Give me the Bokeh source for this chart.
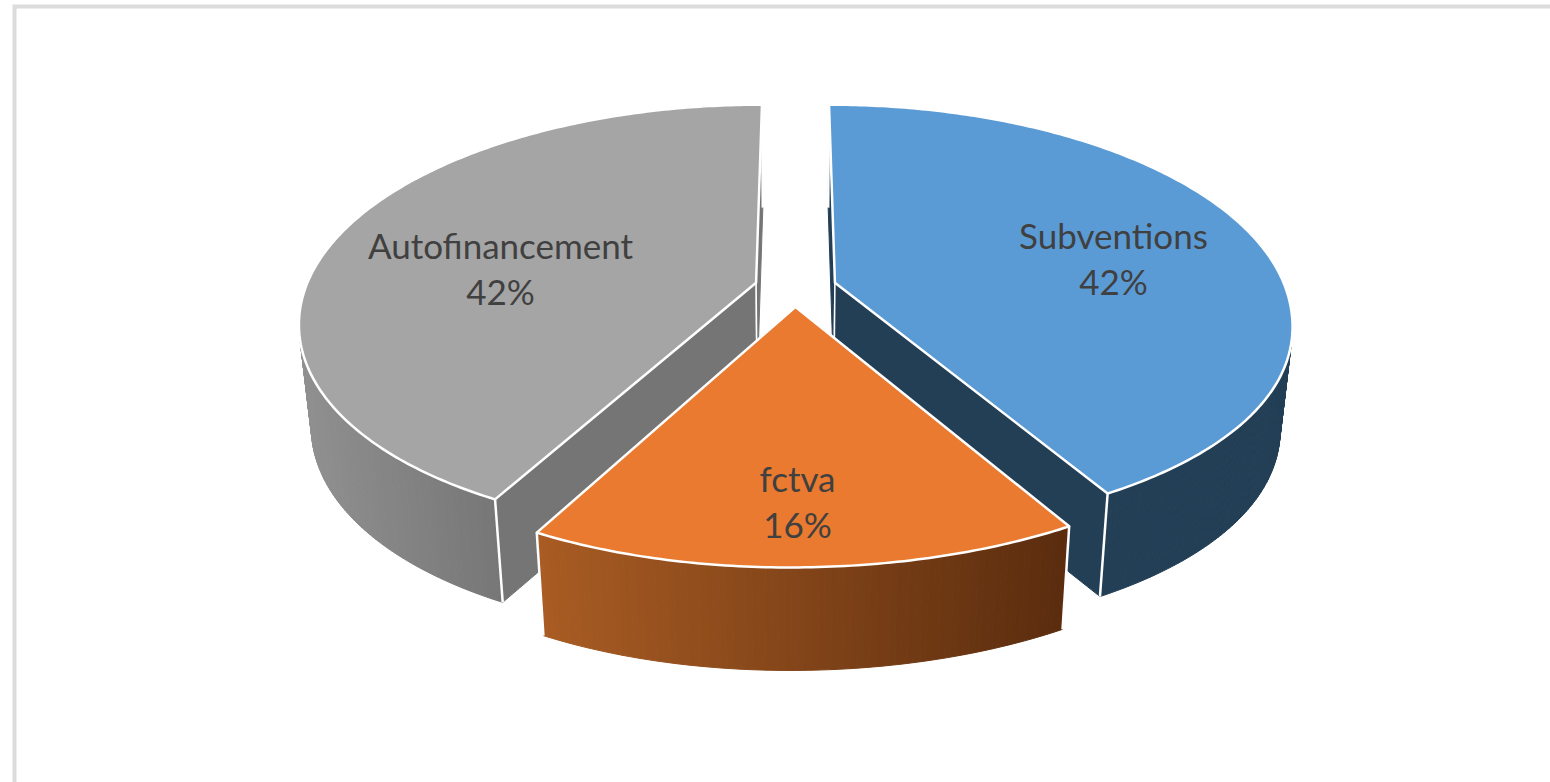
import math
from bokeh.plotting import figure
from bokeh.models import ColumnDataSource
from bokeh.core.properties import value
from bokeh.embed import file_html
from bokeh.resources import INLINE

# ---- chart data
categories = ["Subventions", "fctva", "Autofinancement"]
shares = [42, 16, 42]

# ---- styling
top_colors = ["#5b9bd5", "#e97a2f", "#a5a5a5"]
face_colors = ["#233f56", "#5c2e10", "#757575"]
wall_left = ["#233f56", "#a95c23", "#909090"]
wall_right = ["#233f56", "#5a2c0e", "#767676"]
wall_span = [(830, 1292), (537, 1070), (298, 500)]
show_faces = [True, False, True]
label_pos = [(1113, 234), (797, 477), (500, 244)]
label_step = 46

# ---- projection constants (pixel space)
X0, Y0 = 795.0, 287.0
P, Q, C = 0.00222, 0.000392, 0.4687
EXPLODE = 0.0907
START = 0.0
DEPTH = 103.0
SHRINK = 0.975


def project(u, v, low=False):
    s = 1.0 / (P + Q * v)
    front = v * v if v < 0 else 0.0
    cx = X0 + 8.0 * front
    x = cx + u * s + 10.0 * u * front
    y = Y0 - v * C * s - front * (4.5 + 7.0 * u)
    if low:
        x = cx + (x - cx) * SHRINK
        y = y + DEPTH
    return x, y


def mix(a, b, t):
    t = max(0.0, min(1.0, t))
    ca = [int(a[i:i + 2], 16) for i in (1, 3, 5)]
    cb = [int(b[i:i + 2], 16) for i in (1, 3, 5)]
    return "#%02x%02x%02x" % tuple(round(p + (q - p) * t) for p, q in zip(ca, cb))


W, H = 1550, 782
p = figure(width=W, height=H, x_range=(0, W), y_range=(H, 0),
           toolbar_location=None, output_backend="svg", min_border=0,
           background_fill_color="white", border_fill_color="white", outline_line_color=None)
p.axis.visible = False
p.grid.visible = False

# outer frame of the picture
p.patch([12, 16, 16, W, W, 12], [H, H, 8, 8, 4, 4], color="#dcdcdc", line_color=None)

total = sum(shares)
slices = []
a = START
for i, sh in enumerate(shares):
    a1 = a + 360.0 * sh / total
    slices.append((i, a, a1))
    a = a1

# back to front: the two large slices first, the front slice last
for i, a0, a1 in [slices[0], slices[2], slices[1]]:
    mid = math.radians((a0 + a1) / 2)
    ou, ov = EXPLODE * math.sin(mid), EXPLODE * math.cos(mid)
    n = max(8, int((a1 - a0) * 1.5))
    th = [math.radians(a0 + (a1 - a0) * k / n) for k in range(n + 1)]
    rim = [(ou + math.sin(t), ov + math.cos(t)) for t in th]
    top = [project(u, v) for u, v in rim]
    low = [project(u, v, True) for u, v in rim]
    apex = project(ou, ov)
    apex_low = project(ou, ov, True)

    # outer wall as thin strips so the shading runs across it
    xs, ys, cols = [], [], []
    lo, hi = wall_span[i]
    for k in range(n):
        xs.append([top[k][0], top[k + 1][0], low[k + 1][0], low[k][0]])
        ys.append([top[k][1], top[k + 1][1], low[k + 1][1], low[k][1]])
        cols.append(mix(wall_left[i], wall_right[i], ((top[k][0] + top[k + 1][0]) / 2 - lo) / (hi - lo)))
    p.patches("xs", "ys", fill_color="c", line_color="c", line_width=1,
              source=ColumnDataSource(dict(xs=xs, ys=ys, c=cols)))

    # the two cut faces (hidden on the front slice)
    if show_faces[i]:
        for end in (0, n):
            fx = [apex[0], top[end][0], low[end][0], apex_low[0]]
            fy = [apex[1], top[end][1], low[end][1], apex_low[1]]
            p.patch(fx, fy, fill_color=face_colors[i], line_color=face_colors[i], line_width=1)
            p.line([apex[0], apex_low[0]], [apex[1], apex_low[1]], line_color="white", line_width=1.5)
    for end in (0, n):
        p.line([top[end][0], low[end][0]], [top[end][1], low[end][1]], line_color="white", line_width=2.5)

    # upper surface
    sx = [apex[0]] + [q[0] for q in top]
    sy = [apex[1]] + [q[1] for q in top]
    p.patch(sx, sy, fill_color=top_colors[i], line_color="white", line_width=2.5, line_join="round")

for i, (name, sh) in enumerate(zip(categories, shares)):
    lx, ly = label_pos[i]
    p.text([lx, lx], [ly, ly + label_step], text=[name, f"{sh}%"], text_font=value("Lato"),
           text_font_size="35px", text_color="#404040", text_align="center", text_baseline="middle")

open("out.html", "w").write(file_html(p, INLINE))
